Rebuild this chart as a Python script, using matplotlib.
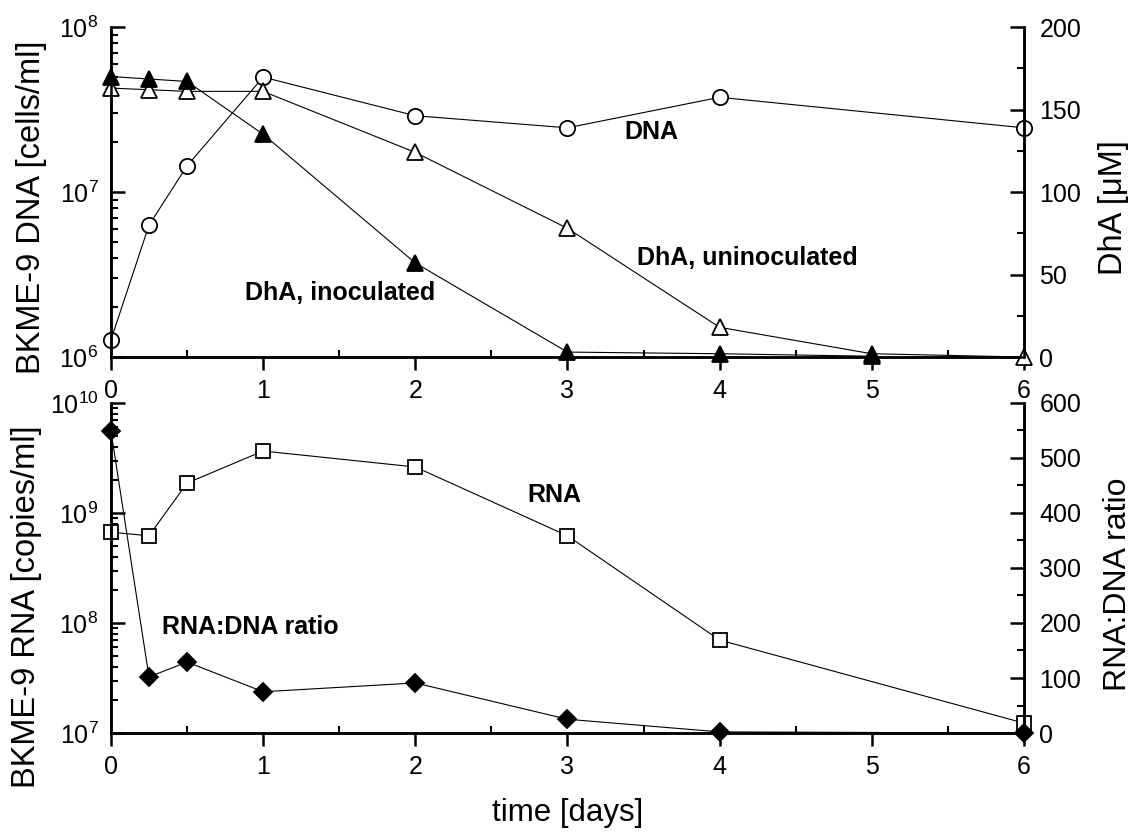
import matplotlib.pyplot as plt
from matplotlib.ticker import LogLocator, MultipleLocator, NullFormatter

plt.rcParams['font.family'] = ['Liberation Sans', 'DejaVu Sans']
plt.rcParams['mathtext.default'] = 'regular'

# top panel data
t_dna = [0, 0.25, 0.5, 1, 2, 3, 4, 6]
dna = [1.27e6, 6.3e6, 1.44e7, 4.97e7, 2.9e7, 2.45e7, 3.75e7, 2.45e7]

t_inoc = [0, 0.25, 0.5, 1, 2, 3, 4, 5]
dha_inoc = [170, 168.5, 167, 135, 57, 3, 2, 0.5]

t_uninoc = [0, 0.25, 0.5, 1, 2, 3, 4, 5, 6]
dha_uninoc = [163, 162, 161, 161, 124, 78, 18, 2, 0]

# bottom panel data
t_rna = [0, 0.25, 0.5, 1, 2, 3, 4, 6]
rna = [6.7e8, 6.2e8, 1.87e9, 3.66e9, 2.62e9, 6.2e8, 7.0e7, 1.23e7]

t_ratio = [0, 0.25, 0.5, 1, 2, 3, 4, 6]
ratio = [549, 102, 129, 75, 91, 25, 2, 0]

fig = plt.figure(figsize=(11.38, 8.34), dpi=100)
ax1 = fig.add_axes([0.0975, 0.5719, 0.8023, 0.3957])
ax1r = ax1.twinx()
ax2 = fig.add_axes([0.0975, 0.1211, 0.8023, 0.3957])
ax2r = ax2.twinx()

line = dict(color='black', lw=0.8, clip_on=False, mew=1.3)

ax1.plot(t_dna, dna, marker='o', ms=11, mfc='white', mec='black', **line)
ax1r.plot(t_uninoc, dha_uninoc, marker='^', ms=12, mfc='white', mec='black', **line)
ax1r.plot(t_inoc, dha_inoc, marker='^', ms=12, mfc='black', mec='black', **line)

ax2.plot(t_rna, rna, marker='s', ms=10.5, mfc='white', mec='black', **line)
ax2r.plot(t_ratio, ratio, marker='D', ms=9.5, mfc='black', mec='black', **line)

ax1.set_yscale('log')
ax1.set_ylim(1e6, 1e8)
ax1r.set_ylim(0, 200)
ax2.set_yscale('log')
ax2.set_ylim(1e7, 1e10)
ax2r.set_ylim(0, 600)

for a in (ax1, ax1r, ax2, ax2r):
    a.set_xlim(0, 6)
    a.spines['top'].set_visible(False)
    for s in ('left', 'right', 'bottom'):
        a.spines[s].set_linewidth(1.8)
    a.tick_params(labelsize=18)

for a in (ax1, ax2):
    a.yaxis.set_major_locator(LogLocator(base=10, numticks=10))
    a.yaxis.set_minor_locator(LogLocator(base=10, subs=range(2, 10), numticks=100))
    a.yaxis.set_minor_formatter(NullFormatter())
    a.tick_params(axis='y', which='major', direction='in', length=10, width=1.8, pad=9)
    a.tick_params(axis='y', which='minor', direction='in', length=5, width=1.5)
    a.xaxis.set_major_locator(MultipleLocator(1))
    a.xaxis.set_minor_locator(MultipleLocator(0.5))
    a.tick_params(axis='x', which='major', direction='out', length=9.5, width=1.8, pad=6)
    a.tick_params(axis='x', which='minor', direction='in', length=5, width=1.5)

ax1r.yaxis.set_major_locator(MultipleLocator(50))
ax1r.yaxis.set_minor_locator(MultipleLocator(25))
ax2r.yaxis.set_major_locator(MultipleLocator(100))
ax2r.yaxis.set_minor_locator(MultipleLocator(50))
for a in (ax1r, ax2r):
    a.tick_params(axis='y', which='major', direction='in', length=10, width=1.8, pad=11)
    a.tick_params(axis='y', which='minor', direction='in', length=5, width=1.5)

ax1.set_ylabel('BKME-9 DNA [cells/ml]', fontsize=23.5)
ax1.yaxis.set_label_coords(-0.070, 0.4545)
ax1r.set_ylabel('DhA [\u03bcM]', fontsize=23.5)
ax1r.yaxis.set_label_coords(1.081, 0.453)
ax2.set_ylabel('BKME-9 RNA [copies/ml]', fontsize=23.5)
ax2.yaxis.set_label_coords(-0.0756, 0.382)
ax2r.set_ylabel('RNA:DNA ratio', fontsize=23)
ax2r.yaxis.set_label_coords(1.087, 0.452)
ax2.set_xlabel('time [days]', fontsize=22.5, labelpad=14)

txt = dict(fontsize=18, fontweight='bold', va='center')
ax1.text(0.592, 0.682, 'DNA', transform=ax1.transAxes, ha='center', **txt)
ax1.text(0.697, 0.30, 'DhA, uninoculated', transform=ax1.transAxes, ha='center', **txt)
ax1.text(0.147, 0.194, 'DhA, inoculated', transform=ax1.transAxes, ha='left', **txt)
ax2.text(0.486, 0.721, 'RNA', transform=ax2.transAxes, ha='center', **txt)
ax2.text(0.056, 0.321, 'RNA:DNA ratio', transform=ax2.transAxes, ha='left', **txt)

plt.savefig('out.png', dpi=100)
